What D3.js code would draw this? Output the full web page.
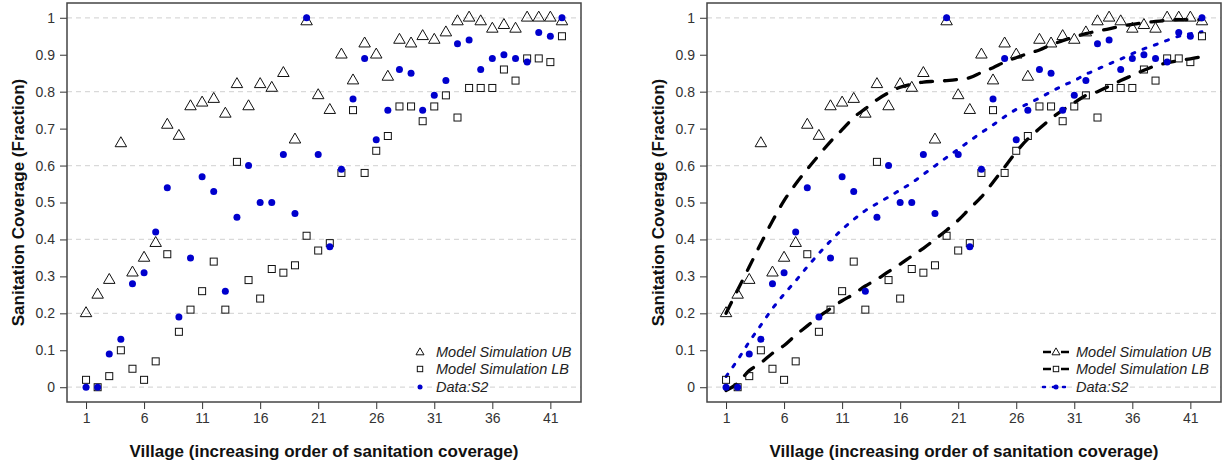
<!DOCTYPE html>
<html>
<head>
<meta charset="utf-8">
<script src="https://cdn.jsdelivr.net/npm/d3@7/dist/d3.min.js"></script>
<style>
  html, body { margin: 0; padding: 0; background: #fff; }
  svg { display: block; font-family: "Liberation Sans", Arial, sans-serif; }
</style>
</head>
<body>
<svg id="chart" width="1224" height="469"></svg>
<script>
// ---- Data ----
const villages = d3.range(1, 43);
const ubValues = [0.20,0.25,0.29,0.66,0.31,0.35,0.39,0.71,0.68,0.76,0.77,0.78,0.74,0.82,0.76,0.82,0.81,0.85,0.67,0.99,0.79,0.75,0.90,0.83,0.93,0.90,0.84,0.94,0.93,0.95,0.94,0.96,0.99,1.00,0.99,0.97,0.98,0.97,1.00,1.00,1.00,0.99];
const lbValues = [0.02,0.00,0.03,0.10,0.05,0.02,0.07,0.36,0.15,0.21,0.26,0.34,0.21,0.61,0.29,0.24,0.32,0.31,0.33,0.41,0.37,0.39,0.58,0.75,0.58,0.64,0.68,0.76,0.76,0.72,0.76,0.79,0.73,0.81,0.81,0.81,0.86,0.83,0.89,0.89,0.88,0.95];
const dataValues = [0.00,0.00,0.09,0.13,0.28,0.31,0.42,0.54,0.19,0.35,0.57,0.53,0.26,0.46,0.60,0.50,0.50,0.63,0.47,1.00,0.63,0.38,0.59,0.78,0.89,0.67,0.75,0.86,0.85,0.75,0.79,0.83,0.93,0.94,0.86,0.89,0.90,0.89,0.88,0.96,0.95,1.00];
// fitted curves shown in the right panel
const ubFit = [0.200,0.263,0.326,0.389,0.450,0.505,0.550,0.590,0.628,0.665,0.697,0.730,0.754,0.778,0.797,0.812,0.820,0.826,0.828,0.830,0.833,0.838,0.852,0.865,0.880,0.892,0.903,0.913,0.927,0.938,0.948,0.957,0.964,0.970,0.977,0.982,0.987,0.990,0.993,0.995,0.995,0.995];
const lbFit = [-0.009,0.011,0.045,0.066,0.092,0.113,0.141,0.166,0.191,0.213,0.234,0.252,0.274,0.292,0.313,0.333,0.355,0.376,0.400,0.425,0.452,0.484,0.515,0.555,0.596,0.637,0.672,0.700,0.727,0.750,0.770,0.790,0.800,0.815,0.830,0.844,0.858,0.870,0.878,0.884,0.889,0.895];
const dataFit = [0.029,0.074,0.123,0.168,0.213,0.252,0.288,0.326,0.362,0.396,0.427,0.454,0.478,0.497,0.515,0.534,0.553,0.576,0.599,0.622,0.644,0.667,0.689,0.710,0.732,0.752,0.767,0.783,0.800,0.816,0.830,0.847,0.861,0.875,0.888,0.903,0.916,0.927,0.939,0.950,0.957,0.962];
const xTicks = [1,6,11,16,21,26,31,36,41];
const yTicks = [0,0.1,0.2,0.3,0.4,0.5,0.6,0.7,0.8,0.9,1];
const gridTicks = [0,0.2,0.4,0.6,0.8,1];
const legendLabels = ["Model Simulation UB","Model Simulation LB","Data:S2"];
const xTitle = "Village (increasing order of sanitation coverage)";
const yTitle = "Sanitation Coverage (Fraction)";

// ---- Layout ----
const svg = d3.select("#chart");
const BLUE = "#0000CD";
const panels = [{left: 67, right: 581, fits: false}, {left: 707, right: 1221, fits: true}];
const plotTop = 3, plotBottom = 402;

const y = d3.scaleLinear().domain([-0.04, 1.04]).range([plotBottom, plotTop]);

function triPath(cx, cy, w) {
  const r = w / Math.sqrt(3);
  const xc = w / 2;
  return `M${cx},${cy - r}L${cx + xc},${cy + r / 2}L${cx - xc},${cy + r / 2}Z`;
}

panels.forEach(p => {
  const g = svg.append("g");
  const x = d3.scaleLinear().domain([-0.64, 43.64]).range([p.left, p.right]);

  // grid
  g.append("g").selectAll("line").data(gridTicks).join("line")
    .attr("x1", p.left).attr("x2", p.right)
    .attr("y1", d => y(d)).attr("y2", d => y(d))
    .attr("stroke", "#d9d9d9").attr("stroke-width", 1.2)
    .attr("stroke-dasharray", "5,4");

  // axes
  const ax = g.append("g").attr("transform", `translate(0,${plotBottom})`)
    .call(d3.axisBottom(x).tickValues(xTicks).tickSize(7).tickPadding(4).tickFormat(d3.format("d")));
  const ay = g.append("g").attr("transform", `translate(${p.left},0)`)
    .call(d3.axisLeft(y).tickValues(yTicks).tickSize(7).tickPadding(5).tickFormat(d => String(d)));
  [ax, ay].forEach(a => {
    a.select(".domain").remove();
    a.selectAll(".tick line").attr("stroke", "#333").attr("stroke-width", 1);
    a.selectAll(".tick text").attr("fill", "#333").attr("font-size", 14)
      .attr("font-family", "Liberation Sans, Arial, sans-serif");
  });

  // box
  g.append("rect").attr("x", p.left).attr("y", plotTop)
    .attr("width", p.right - p.left).attr("height", plotBottom - plotTop)
    .attr("fill", "none").attr("stroke", "#444").attr("stroke-width", 1.5);

  // titles
  g.append("text").attr("x", (p.left + p.right) / 2).attr("y", 457)
    .attr("text-anchor", "middle").attr("font-weight", "bold").attr("font-size", 17)
    .attr("fill", "#111").text(xTitle);
  g.append("text").attr("transform", `translate(${p.left - 43},${(plotTop + plotBottom) / 2}) rotate(-90)`)
    .attr("text-anchor", "middle").attr("font-weight", "bold").attr("font-size", 17)
    .attr("fill", "#111").text(yTitle);

  // fitted curves (right panel)
  if (p.fits) {
    const line = arr => d3.line().x((d, i) => x(villages[i])).y(d => y(d)).curve(d3.curveMonotoneX)(arr);
    g.append("path").attr("d", line(ubFit)).attr("fill", "none").attr("stroke", "#000")
      .attr("stroke-width", 3.3).attr("stroke-dasharray", "12,12").attr("stroke-linecap", "round");
    g.append("path").attr("d", line(lbFit)).attr("fill", "none").attr("stroke", "#000")
      .attr("stroke-width", 3.3).attr("stroke-dasharray", "12,12").attr("stroke-linecap", "round");
    g.append("path").attr("d", line(dataFit)).attr("fill", "none").attr("stroke", BLUE)
      .attr("stroke-width", 3).attr("stroke-dasharray", "3,9").attr("stroke-linecap", "round");
  }

  // points
  g.append("g").selectAll("path").data(ubValues).join("path")
    .attr("d", (d, i) => triPath(x(villages[i]), y(d), 11.5))
    .attr("fill", "none").attr("stroke", "#111").attr("stroke-width", 1);
  g.append("g").selectAll("rect").data(lbValues).join("rect")
    .attr("x", (d, i) => x(villages[i]) - 3.5).attr("y", d => y(d) - 3.5)
    .attr("width", 7).attr("height", 7)
    .attr("fill", "none").attr("stroke", "#111").attr("stroke-width", 1);
  g.append("g").selectAll("circle").data(dataValues).join("circle")
    .attr("cx", (d, i) => x(villages[i])).attr("cy", d => y(d)).attr("r", 3.5)
    .attr("fill", BLUE);

  // legend
  const lg = g.append("g");
  const rows = [352, 369, 387];
  const symX = p.fits ? p.left + 349 : p.left + 353;
  const textX = p.left + 369;
  legendLabels.forEach((lab, k) => {
    const ry = rows[k];
    if (p.fits) {
      lg.append("line").attr("x1", symX - 13).attr("x2", symX + 13).attr("y1", ry).attr("y2", ry)
        .attr("stroke", k === 2 ? BLUE : "#000").attr("stroke-width", 2.5)
        .attr("stroke-dasharray", k === 2 ? "2,8" : "8,10,8")
        .attr("stroke-linecap", k === 2 ? "round" : "butt");
    }
    if (k === 0) {
      lg.append("path").attr("d", triPath(symX, ry + 0.5, 8)).attr("fill", "#fff")
        .attr("stroke", "#111").attr("stroke-width", 1);
    } else if (k === 1) {
      lg.append("rect").attr("x", symX - 2.7).attr("y", ry - 2.7).attr("width", 5.4).attr("height", 5.4)
        .attr("fill", "#fff").attr("stroke", "#111").attr("stroke-width", 1);
    } else {
      lg.append("circle").attr("cx", symX).attr("cy", ry).attr("r", 2.5).attr("fill", BLUE);
    }
    lg.append("text").attr("x", textX).attr("y", ry).attr("dy", "0.36em")
      .attr("font-style", "italic").attr("font-size", 14.5).attr("fill", "#222").text(lab);
  });
});
</script>
</body>
</html>
